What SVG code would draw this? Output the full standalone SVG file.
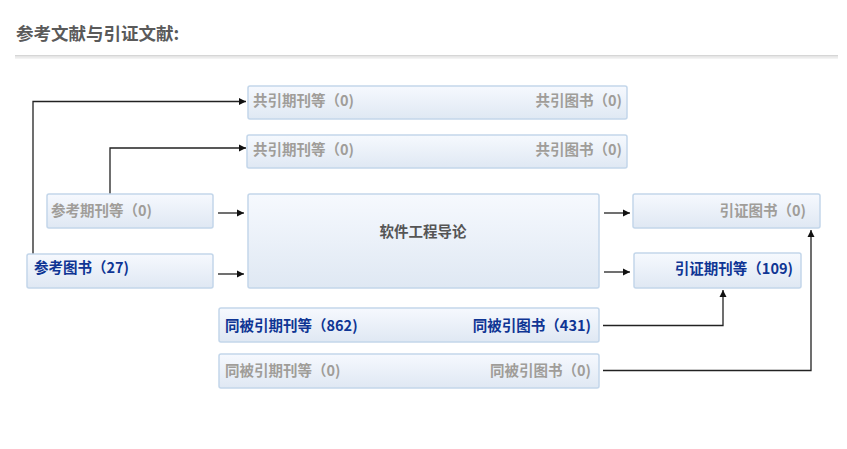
<svg xmlns="http://www.w3.org/2000/svg" width="847" height="449" viewBox="0 0 847 449">
<style>
text{font-family:"Noto Sans CJK SC","Microsoft YaHei",sans-serif;font-weight:bold;font-size:14.5px}
.title{font-size:17.5px;fill:#5a5a5a}
.box{fill:url(#g);stroke:#c3d6ea;stroke-width:1.5}
.gray{fill:#a09d99}
.blue{fill:#0f3594}
.dark{fill:#555}
.r{text-anchor:end}
.c{text-anchor:middle}
.ln{fill:none;stroke:#222;stroke-width:1.3}
</style>
<defs>
<linearGradient id="g" x1="0" y1="0" x2="0" y2="1">
<stop offset="0" stop-color="#f6f9fe"/>
<stop offset="1" stop-color="#dfe8f3"/>
</linearGradient>
<marker id="ar" viewBox="0 0 8 8" refX="7" refY="4" markerWidth="8" markerHeight="8" markerUnits="userSpaceOnUse" orient="auto">
<path d="M0,0.5 L7,4 L0,7.5 Z" fill="#111"/>
</marker>
</defs>
<rect width="847" height="449" fill="#fff"/>
<text class="title" x="16" y="40">参考文献与引证文献:</text>
<rect x="15" y="55" width="823" height="1.6" fill="#d6d6d6"/>
<rect x="15" y="57" width="823" height="1.6" fill="#ececec"/>

<g id="connectors">
<path class="ln" d="M33,254 V101.5 H246" marker-end="url(#ar)"/>
<path class="ln" d="M110,194 V148 H246" marker-end="url(#ar)"/>
<path class="ln" d="M218,213 H244" marker-end="url(#ar)"/>
<path class="ln" d="M218,274 H244" marker-end="url(#ar)"/>
<path class="ln" d="M604,213 H630" marker-end="url(#ar)"/>
<path class="ln" d="M604,272 H630" marker-end="url(#ar)"/>
<path class="ln" d="M603,325.5 H723 V290" marker-end="url(#ar)"/>
<path class="ln" d="M603,370.5 H811 V230" marker-end="url(#ar)"/>
</g>

<g id="cocite-1">
<rect class="box" x="248" y="86" width="379" height="33" rx="2"/>
<text class="gray" x="253" y="106">共引期刊等（0)</text>
<text class="gray r" x="622" y="106">共引图书（0)</text>
</g>
<g id="cocite-2">
<rect class="box" x="247" y="135" width="380" height="33" rx="2"/>
<text class="gray" x="253" y="155">共引期刊等（0)</text>
<text class="gray r" x="622" y="155">共引图书（0)</text>
</g>
<g id="ref-journal">
<rect class="box" x="47" y="194" width="166" height="34" rx="2"/>
<text class="gray" x="51" y="216">参考期刊等（0)</text>
</g>
<g id="ref-book">
<rect class="box" x="27" y="254" width="186" height="34" rx="2"/>
<text class="blue" x="34" y="273">参考图书（27)</text>
</g>
<g id="center">
<rect class="box" x="248" y="194" width="351" height="94" rx="2"/>
<text class="dark c" x="423" y="237">软件工程导论</text>
</g>
<g id="cited-book">
<rect class="box" x="633" y="194" width="187" height="34" rx="2"/>
<text class="gray r" x="806" y="216">引证图书（0)</text>
</g>
<g id="cited-journal">
<rect class="box" x="634" y="253" width="167" height="35" rx="2"/>
<text class="blue r" x="793" y="274">引证期刊等（109)</text>
</g>
<g id="cocited-1">
<rect class="box" x="219" y="308" width="380" height="34" rx="2"/>
<text class="blue" x="225" y="331">同被引期刊等（862)</text>
<text class="blue r" x="591" y="331">同被引图书（431)</text>
</g>
<g id="cocited-2">
<rect class="box" x="219" y="354" width="380" height="34" rx="2"/>
<text class="gray" x="225" y="376">同被引期刊等（0)</text>
<text class="gray r" x="591" y="376">同被引图书（0)</text>
</g>
</svg>
